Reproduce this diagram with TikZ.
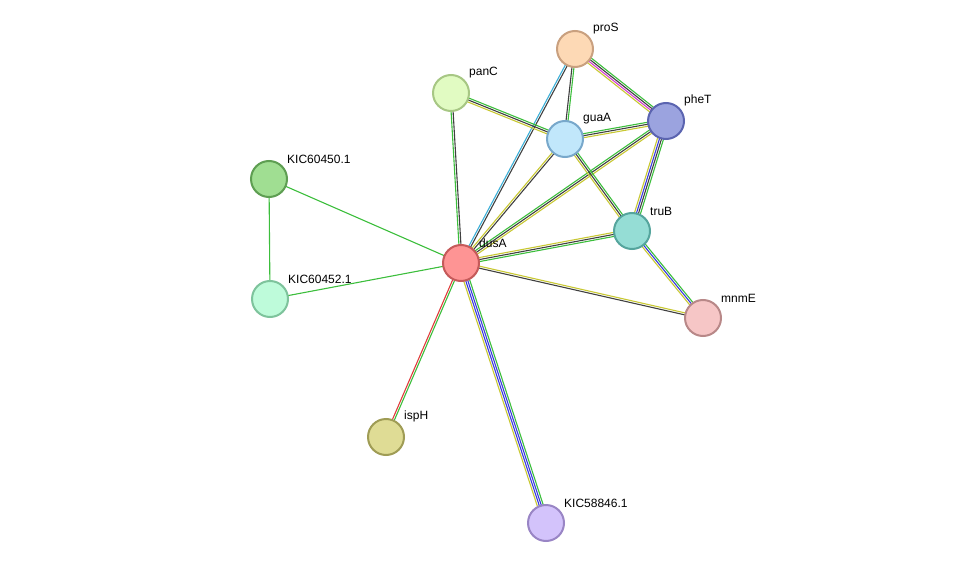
\documentclass[tikz,border=0pt]{standalone}
\usepackage{fontspec}
\setmainfont{Liberation Sans}
\usetikzlibrary{calc,backgrounds}
\definecolor{tm}{HTML}{C8C832}
\definecolor{co}{HTML}{404040}
\definecolor{nb}{HTML}{3CBE3C}
\definecolor{oc}{HTML}{3A3ADD}
\definecolor{db}{HTML}{3CB0D8}
\definecolor{ex}{HTML}{D23CD2}
\definecolor{fu}{HTML}{E03C3C}
\newcommand{\medge}[3]{\foreach \c/\o in {#3} \draw[\c,line width=1.1pt] ($(#1)!\o pt!90:(#2)$) -- ($(#2)!\o pt!-90:(#1)$);}
\tikzset{prot/.style={circle,minimum size=36pt,inner sep=0pt,line width=2pt},
lab/.style={font=\fontsize{12}{12}\selectfont,anchor=south west,inner sep=0pt}}
\begin{document}
\begin{tikzpicture}[x=1pt,y=-1pt]
\useasboundingbox (0,0) rectangle (976,569);
\def\P#1#2#3#4#5#6{\definecolor{f#1}{HTML}{#4}\definecolor{d#1}{HTML}{#5}\node[prot,fill=f#1,draw=d#1] (#1) at (#2,#3) {}; \node[lab] (l#1) at ($(#2,#3)+(18,-15)$) {#6};}
\P{proS}{575}{49}{FDD9B5}{C9A07F}{proS}
\P{panC}{451}{93}{E1FBC2}{A7C784}{panC}
\P{pheT}{666}{121}{9BA3DF}{5B64B0}{pheT}
\P{guaA}{565}{139}{C1E7FB}{78A8CB}{guaA}
\P{KICa}{269}{179}{A0DE92}{5E9E52}{KIC60450.1}
\P{truB}{632}{231}{95DDD5}{55A59D}{truB}
\P{dusA}{461}{263}{FE9494}{C55A5A}{dusA}
\P{KICb}{270}{299}{BEFBDA}{7EC39C}{KIC60452.1}
\P{mnmE}{703}{318}{F6C6C6}{B88888}{mnmE}
\P{ispH}{386}{437}{DFDC95}{9F9C55}{ispH}
\P{KICc}{546}{523}{D3C3FB}{9985C5}{KIC58846.1}
\begin{scope}[on background layer]
\medge{dusA}{KICa}{nb/0}
\medge{dusA}{KICb}{nb/0}
\medge{KICa}{KICb}{nb/0}
\medge{dusA}{ispH}{fu/-1,nb/1}
\medge{dusA}{KICc}{tm/-3,oc/-1,oc/1,nb/3}
\medge{dusA}{mnmE}{co/-1,tm/1}
\medge{dusA}{truB}{nb/-2,co/0,tm/2}
\medge{dusA}{pheT}{tm/-2,co/0,nb/2}
\medge{dusA}{guaA}{co/-1,tm/1}
\medge{dusA}{proS}{co/-1,db/1}
\medge{dusA}{panC}{co/-1,nb/1}
\medge{panC}{guaA}{tm/-2,co/0,nb/2}
\medge{proS}{guaA}{co/-1,nb/1}
\medge{proS}{pheT}{tm/-3,ex/-1,co/1,nb/3}
\medge{guaA}{pheT}{tm/-2,co/0,nb/2}
\medge{guaA}{truB}{tm/-2,co/0,nb/2}
\medge{pheT}{truB}{tm/-3,oc/-1,co/1,nb/3}
\medge{truB}{mnmE}{tm/-2,oc/0,nb/2}
\end{scope}
\end{tikzpicture}
\end{document}
